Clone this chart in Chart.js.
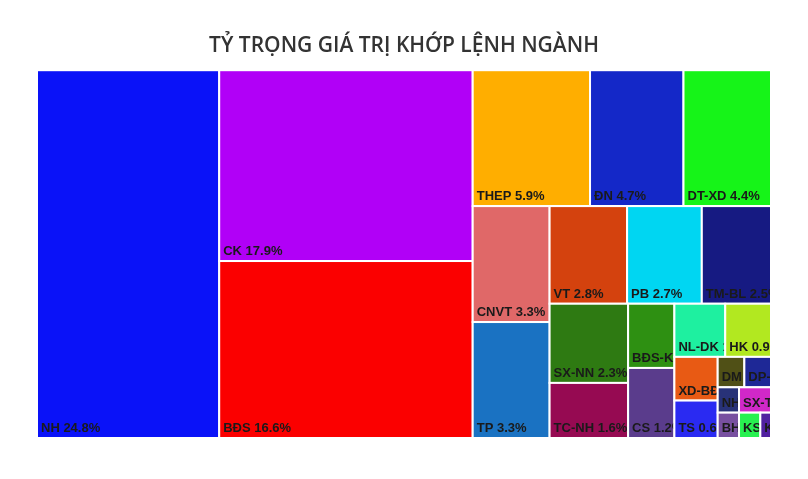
<!DOCTYPE html>
<html>
<head>
<meta charset="utf-8">
<script src="https://cdn.jsdelivr.net/npm/chart.js@4"></script>
<style>
body{margin:0;background:#fff;}
#wrap{width:808px;height:479px;}
</style>
</head>
<body>
<div id="wrap"><canvas id="chartNganh"></canvas></div>
<script>
// du lieu nganh
const nhanNganh = ["NH","CK","BĐS","THEP","ĐN","DT-XD","CNVT","TP","VT","PB","TM-BL","SX-NN","TC-NH","BĐS-KCN","CS","NL-DK","HK","XD-BĐ","TS","DM","DP-YT","NHỰA","BH","SX-TD","KS","KHAC"];
const tyTrong = [24.8,17.9,16.6,5.9,4.7,4.4,3.3,3.3,2.8,2.7,2.5,2.3,1.6,1.1,1.2,1.0,0.9,0.7,0.6,0.3,0.3,0.2,0.2,0.3,0.2,0.1];
const mauNganh = ["#0a12f8","#b100f7","#fb0000","#ffae00","#1428c8","#16f418","#e06868","#1a72c2","#d4420e","#00d6f2","#161a82","#2e7a12","#960a52","#2e9012","#5a3c8c","#1ef0a0","#b2e820","#e85a14","#2a2af2","#505016","#1e2896","#283278","#7850a0","#d028c8","#28f050","#5020a0"];

const W = 734, H = 367;

function worst(row, w){
    const s = row.reduce((a,b)=>a+b,0);
    const mx = Math.max(...row), mn = Math.min(...row);
    return Math.max(w*w*mx/(s*s), (s*s)/(w*w*mn));
}

function squarify(areas){
    const out = [];
    let x=0,y=0,w=W,h=H;
    let i=0;
    while(i<areas.length){
        const side = Math.min(w,h);
        let row=[areas[i]]; let j=i+1;
        while(j<areas.length){
            const nr=row.concat([areas[j]]);
            if(worst(nr,side)<=worst(row,side)){row=nr;j++;} else break;
        }
        const s=row.reduce((a,b)=>a+b,0);
        if(w>=h){
            const cw=s/h; let cy=y;
            row.forEach(a=>{const rh=a/cw; out.push({x:x,y:cy,w:cw,h:rh}); cy+=rh;});
            x+=cw; w-=cw;
        }else{
            const rh=s/w; let cx=x;
            row.forEach(a=>{const rw=a/rh; out.push({x:cx,y:y,w:rw,h:rh}); cx+=rw;});
            y+=rh; h-=rh;
        }
        i=j;
    }
    return out;
}

const treemapPlugin = {
    id:"treemap",
    afterDatasetsDraw(chart){
        const ctx=chart.ctx, sx=chart.scales.x, sy=chart.scales.y;
        const tong=tyTrong.reduce((a,b)=>a+b,0);
        const rects=squarify(tyTrong.map(v=>v/tong*W*H));
        rects.forEach((r,k)=>{
            const x0=sx.getPixelForValue(r.x), x1=sx.getPixelForValue(r.x+r.w);
            const y0=sy.getPixelForValue(r.y), y1=sy.getPixelForValue(r.y+r.h);
            ctx.save();
            ctx.fillStyle=mauNganh[k];
            ctx.fillRect(x0,y0,x1-x0,y1-y0);
            ctx.strokeStyle="#fff"; ctx.lineWidth=2;
            ctx.strokeRect(x0,y0,x1-x0,y1-y0);
            ctx.beginPath(); ctx.rect(x0+1,y0+1,x1-x0-2,y1-y0-2); ctx.clip();
            ctx.fillStyle="#1a1a1a";
            ctx.font="bold 13px 'Liberation Sans', Arial";
            ctx.textBaseline="alphabetic";
            ctx.fillText(nhanNganh[k]+" "+tyTrong[k]+"%", x0+4, y1-6);
            ctx.restore();
        });
    }
};

new Chart(document.getElementById("chartNganh"),{
    type:"scatter",
    data:{datasets:[{data:[]}]},
    options:{
        responsive:true,
        maintainAspectRatio:false,
        animation:false,
        layout:{padding:{left:37,right:37,bottom:41}},
        scales:{
            x:{display:false,min:0,max:W},
            y:{display:false,min:0,max:H,reverse:true}
        },
        plugins:{
            legend:{display:false},
            tooltip:{enabled:false},
            title:{
                display:true,
                text:"TỶ TRỌNG GIÁ TRỊ KHỚP LỆNH NGÀNH",
                color:"#333",
                font:{family:"'Open Sans'",size:21,weight:"600"},
                padding:{top:33,bottom:12}
            }
        }
    },
    plugins:[treemapPlugin]
});
</script>
</body>
</html>
